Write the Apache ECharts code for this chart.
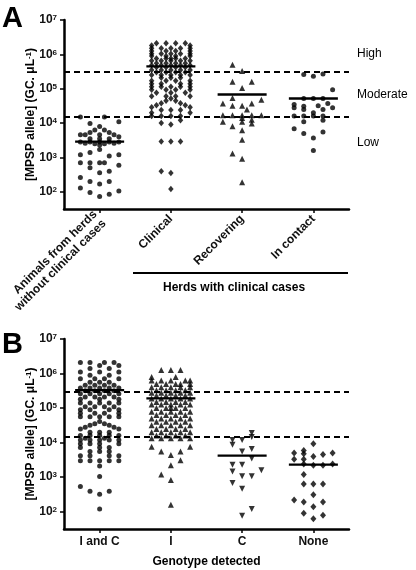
<!DOCTYPE html>
<html><head><meta charset="utf-8">
<script src="https://cdn.jsdelivr.net/npm/echarts@6/dist/echarts.min.js"></script>
<style>html,body{margin:0;padding:0;background:#fff}#c{width:416px;height:570px}</style>
</head><body><div id="c"></div><script>
// ---------- DATA ----------
const catsA = ['Animals from herds\nwithout clinical cases', 'Clinical', 'Recovering', 'In contact'];
const catsB = ['I and C', 'I', 'C', 'None'];
const yTickExponents = [2, 3, 4, 5, 6, 7];
const thresholds = [3e5, 1.5e4];
const levelLabels = ['High', 'Moderate', 'Low'];
const mediansA = [2900, 4.5e5, 6.8e4, 5.2e4];
const mediansB = [3.3e5, 1.9e5, 4.2e3, 2.3e3];

// each row: [value (GC/uL), horizontal swarm slots of the dots at that value]
const noCases = [
  [15000, [-2, 0.5]], [11000, [2]], [9800, [-1]], [8000, [0]], [6300, [-0.5, 0.5]],
  [5300, [-1, 1]], [4600, [-2, -1.5, 0, 1.5]], [4000, [2]], [3500, [-1, 0, 1]],
  [2800, [-2, -1, 0, 1, 2]], [2600, [-1.5, 1.5]], [2500, [-0.5, 0.5]], [2300, [0]],
  [1700, [0]], [1400, [-1]], [1200, [-2, 2]], [1100, [1]], [700, [-2, -1, 0, 0.5]],
  [590, [2]], [500, [-1]], [400, [1]], [360, [0]], [260, [-2]], [200, [-1, 1]],
  [170, [0]], [130, [-2]], [105, [2]], [95, [-1]], [85, [1]], [73, [0]]
];
const clinical = [
  [2.1e6, [-1.5, -0.5, 0.5, 1.5]], [1.8e6, [-2, 2]], [1.5e6, [-2, -1, 0, 1, 2]],
  [1.26e6, [-2, -0.5, 0.5, 2]], [1.05e6, [-2, -1, 0, 1, 2]], [8.9e5, [-2, -0.5, 0.5, 2]],
  [7.6e5, [-1.5, -0.5, 0, 0.5, 1.5]], [6.5e5, [-2, -1, 0, 1, 2]], [5.5e5, [-1.5, -0.5, 0.5, 1.5]],
  [4.8e5, [-2, -1, 0, 1, 2]], [4.2e5, [-1.5, -0.5, 0.5, 1.5]], [3.5e5, [-2, -1, 0, 1, 2]],
  [3.0e5, [-1.5, -0.5, 0.5, 1.5]], [2.5e5, [-2, -1, 0, 1, 2]], [2.1e5, [-1, 0, 1]],
  [1.7e5, [-2, -0.5, 0.5, 2]], [1.4e5, [-2, -1, 1, 2]], [1.15e5, [-2, -1, 0, 1, 2]],
  [9.3e4, [-2, -0.5, 0.5, 2]], [7.6e4, [-1.5, 0, 1.5]], [6.0e4, [-2, -0.5, 0.5, 2]],
  [5.2e4, [0]], [4.5e4, [-0.5, 0.5]], [3.8e4, [-1, 1]], [3.3e4, [-1.5, 1.5]], [2.9e4, [-2, 2]],
  [2.4e4, [-1, 0, 1]], [2.0e4, [-2, 2]], [1.6e4, [-2, -1, 0, 1]], [1.2e4, [1]], [1.0e4, [-1]],
  [9100, [0]], [2900, [-1, 0, 1]], [400, [-1]], [350, [0]], [120, [0]]
];
const recovering = [
  [5.0e5, [-1]], [3.3e5, [0]], [1.6e5, [-1, 1]], [1.05e5, [0]], [5.4e4, [-1]], [4.8e4, [2]],
  [3.7e4, [-2, 1]], [3.2e4, [-1, 0]], [2.5e4, [0.5]], [1.7e4, [-2, -1, 0, 1, 2]], [1.4e4, [0]],
  [1.26e4, [1]], [1.1e4, [-2, 0]], [9800, [1]], [8100, [-1]], [6200, [0]], [3300, [0]],
  [1300, [-1]], [910, [0]], [190, [0]]
];
const inContact = [
  [2.7e5, [1]], [2.6e5, [-1]], [2.3e5, [0]], [9.3e4, [2]], [5.2e4, [-1, 0, 1]], [3.7e4, [1.5]],
  [3.5e4, [-2]], [3.2e4, [0.5]], [3.1e4, [-1]], [2.8e4, [-2, 2]], [2.5e4, [-1, 1]], [2.0e4, [0]],
  [1.6e4, [-2, -1, 0, 1]], [1.2e4, [1]], [1.1e4, [-1]], [6800, [-2]], [5500, [1]], [5000, [-1]],
  [3700, [0]], [1600, [0]]
];
const iAndC = [
  [2.1e6, [-2, -1, 0.5, 1.5]], [1.7e6, [0, 2]], [1.4e6, [-1, 1]], [1.1e6, [-2, 0, 2]],
  [8.9e5, [-1, 1]], [7.1e5, [-2, -0.5, 0.5, 2]], [5.6e5, [-1, 0, 1]], [4.6e5, [-1.5, -0.5, 0.5, 1.5]],
  [3.8e5, [-2, -1, 0, 1, 2]], [3.2e5, [-1.5, -0.5, 0.5, 1.5]], [2.6e5, [-2, -1, 0, 1, 2]],
  [2.1e5, [-1.5, -0.5, 0.5, 1.5]], [1.8e5, [-2, 0, 2]], [1.4e5, [-2, -1, 0, 1, 2]],
  [1.1e5, [-1.5, -0.5, 0.5, 1.5]], [8.9e4, [-2, -1, 1, 2]], [7.1e4, [-2, -0.5, 0.5, 2]],
  [5.6e4, [-2, -1, 0, 1, 2]], [4.1e4, [0]], [3.5e4, [-0.5, 0.5]], [3.2e4, [-1, 1]],
  [2.8e4, [-1.5, 1.5]], [2.5e4, [-2, 2]], [2.0e4, [-1, 0, 1]], [1.6e4, [-2, -1, 0, 1, 2]],
  [1.35e4, [-1.5, 0.5]], [1.2e4, [-2, -1, 0, 1, 2]], [9300, [-2, -1, 0, 2]], [7200, [-2, 0, 1]],
  [5500, [-1, 0, 1]], [4200, [-2, -1, 1, 2]], [3000, [-2, -1, 0, 1, 2]], [2100, [0]],
  [1050, [0]], [540, [-2]], [390, [-1, 1]], [320, [0]], [120, [0]]
];
const genoI = [
  [1.26e6, [-1, 0, 1]], [7.9e5, [-2, 0.5]], [6.3e5, [-2, -1, 0, 1.5, 2]], [5.0e5, [-1.5, -0.5, 0.5, 1, 2]],
  [4.0e5, [-2, -1, 0, 1, 2]], [3.3e5, [-1.5, -0.5, 0.5, 1.5]], [2.8e5, [-2, -1, 0, 1, 2]],
  [2.3e5, [-1.5, -0.5, 0.5, 1.5]], [1.9e5, [-2, -1, 0, 1, 2]], [1.5e5, [-1.5, -0.5, 0.5, 1.5]],
  [1.26e5, [-2, -1, 0, 1, 2]], [1.0e5, [-1.5, -0.5, 0, 0.5, 1.5]], [7.9e4, [-2, -1, 0, 1, 2]],
  [6.3e4, [-1.5, -0.5, 0.5, 1.5]], [5.0e4, [-2, -1, 0, 1, 2]], [4.0e4, [-1.5, -0.5, 0.5, 1.5]],
  [3.2e4, [-2, -1, 0, 1, 2]], [2.5e4, [-1.5, -0.5, 0.5, 1.5]], [2.0e4, [-2, -1, 0, 1, 2]],
  [1.6e4, [-1.5, -0.5, 0.5, 1.5]], [1.35e4, [-2, -1, 0, 1, 2]], [7600, [-2, 2]], [5500, [-1, 1]],
  [4400, [0]], [3100, [1]], [2200, [0]], [1200, [-1]], [830, [0]], [160, [0]]
];
const genoC = [
  [1.9e4, [1]], [1.45e4, [1]], [1.2e4, [-1, 0]], [8700, [-1]], [6500, [1]], [5500, [0]],
  [3500, [1]], [2300, [-1, 0]], [1600, [2]], [1450, [-1]], [1070, [0, 1]], [680, [-1]],
  [460, [0]], [120, [1]], [76, [0]]
];
const genoNone = [
  [9300, [0]], [5900, [-1]], [5000, [-2, 2]], [4800, [-1]], [4500, [1]], [4000, [0]],
  [3300, [-2, -1]], [2400, [-1, 2]], [2200, [0, 1]], [1200, [-1]], [630, [-1, 0, 1]],
  [310, [0]], [220, [-2]], [190, [-1, 1]], [140, [0]], [91, [-1]], [79, [1]], [63, [0]]
];

// ---------- CHART ----------
const FONT = '"Liberation Sans", Arial, sans-serif';
const SLOT = 0.135;   // swarm slot width in category units
const HALF = 0.344;   // half width of the median bar in category units
const lg = Math.log10;

function pts(rows, idx) {
  const out = [];
  rows.forEach(([v, slots]) => slots.forEach(s => out.push([idx + s * SLOT, lg(v)])));
  return out;
}

const grids = [
  { left: 64, top: 20, width: 285, height: 189 },
  { left: 64, top: 339, width: 285, height: 190 }
];

function yAxisOpt(gi) {
  return {
    type: 'value', gridIndex: gi, min: 1.5, max: 7, position: 'left',
    name: '[MPSP allele] (GC. μL{s|-1})', nameLocation: 'middle', nameRotate: 90, nameGap: 27,
    nameMoveOverlap: false,
    nameTextStyle: { fontFamily: FONT, fontWeight: 'bold', fontSize: 12, color: '#000',
      rich: { s: { fontFamily: FONT, fontWeight: 'bold', fontSize: 8, color: '#000', verticalAlign: 'top' } } },
    axisLine: { show: true, onZero: false, lineStyle: { color: '#000', width: 2.5 } },
    axisTick: { show: true, customValues: yTickExponents, length: 4, lineStyle: { color: '#000', width: 1.5 } },
    axisLabel: { customValues: yTickExponents, margin: 7, formatter: v => '{b|10}{s|' + v + '}',
      rich: {
        b: { fontFamily: FONT, fontWeight: 'bold', fontSize: 12, color: '#111' },
        s: { fontFamily: FONT, fontWeight: 'bold', fontSize: 8, color: '#111', verticalAlign: 'top' }
      } },
    splitLine: { show: false }
  };
}

function catAxis(gi, cats, rotate, name) {
  return {
    type: 'category', gridIndex: gi, data: cats, boundaryGap: true, position: 'bottom',
    name: name || '', nameLocation: 'middle', nameGap: 27, nameMoveOverlap: false,
    nameTextStyle: { fontFamily: FONT, fontWeight: 'bold', fontSize: 12, color: '#000' },
    axisLine: { show: true, onZero: false, lineStyle: { color: '#000', width: 2.5 } },
    axisTick: { show: true, alignWithLabel: true, length: 4, lineStyle: { color: '#000', width: 1.5 } },
    axisLabel: { interval: 0, rotate: rotate, margin: rotate ? 8 : 6, fontFamily: FONT, fontWeight: 'bold',
      fontSize: 12, color: '#111', lineHeight: 13 },
    splitLine: { show: false }
  };
}
function valAxis(gi) {
  return { type: 'value', gridIndex: gi, min: -0.5, max: 3.5, show: false, position: 'top',
    axisLine: { onZero: false }, splitLine: { show: false } };
}

const series = [];
function scatter(rows, idx, xi, yi, symbol, size, rotate) {
  series.push({ type: 'scatter', xAxisIndex: xi, yAxisIndex: yi, data: pts(rows, idx), symbol: symbol,
    symbolSize: size, symbolRotate: rotate || 0, itemStyle: { color: '#000' }, silent: true, z: 3 });
}
function median(m, idx, xi, yi) {
  series.push({ type: 'line', xAxisIndex: xi, yAxisIndex: yi, data: [[idx - HALF, lg(m)], [idx + HALF, lg(m)]],
    symbol: 'none', lineStyle: { color: '#000', width: 2.3 }, silent: true, z: 4 });
}
function thresholdLines(xi, yi) {
  series.push({ type: 'line', xAxisIndex: xi, yAxisIndex: yi, data: [], silent: true,
    markLine: { silent: true, symbol: 'none', label: { show: false },
      lineStyle: { color: '#000', width: 2, type: [6, 4] },
      data: thresholds.map(t => ({ yAxis: lg(t) })) } });
}

// Panel A (x axis index 1 = value axis of grid 0)
thresholdLines(1, 0);
scatter(noCases, 0, 1, 0, 'circle', 5);
scatter(clinical, 1, 1, 0, 'diamond', [5.5, 6.5]);
scatter(recovering, 2, 1, 0, 'triangle', 6);
scatter(inContact, 3, 1, 0, 'circle', 5);
mediansA.forEach((m, i) => median(m, i, 1, 0));
// Panel B (x axis index 3 = value axis of grid 1)
thresholdLines(3, 1);
scatter(iAndC, 0, 3, 1, 'circle', 5);
scatter(genoI, 1, 3, 1, 'triangle', 6);
scatter(genoC, 2, 3, 1, 'triangle', 6, 180);
scatter(genoNone, 3, 3, 1, 'diamond', [6, 7]);
mediansB.forEach((m, i) => median(m, i, 3, 1));

const txt = (x, y, s, size, weight, align) => ({
  type: 'text', left: x, top: y, silent: true,
  style: { text: s, fontFamily: FONT, fontSize: size, fontWeight: weight, fill: '#000', textAlign: align || 'left' }
});

const option = {
  animation: false,
  backgroundColor: '#fff',
  grid: grids,
  xAxis: [catAxis(0, catsA, 45), valAxis(0), catAxis(1, catsB, 0, 'Genotype detected'), valAxis(1)],
  yAxis: [yAxisOpt(0), yAxisOpt(1)],
  series: series,
  graphic: [
    txt(2, 4, 'A', 29, 'bold'),
    txt(2, 330, 'B', 29, 'bold'),
    txt(357, 48, levelLabels[0], 12, 'normal'),
    txt(357, 89, levelLabels[1], 12, 'normal'),
    txt(357, 137, levelLabels[2], 12, 'normal'),
    { type: 'line', silent: true, shape: { x1: 133, y1: 273, x2: 348, y2: 273 }, style: { stroke: '#000', lineWidth: 2 } },
    txt(163, 282, 'Herds with clinical cases', 12, 'bold')
  ]
};
const chart = echarts.init(document.getElementById('c'));
chart.setOption(option);
</script></body></html>
